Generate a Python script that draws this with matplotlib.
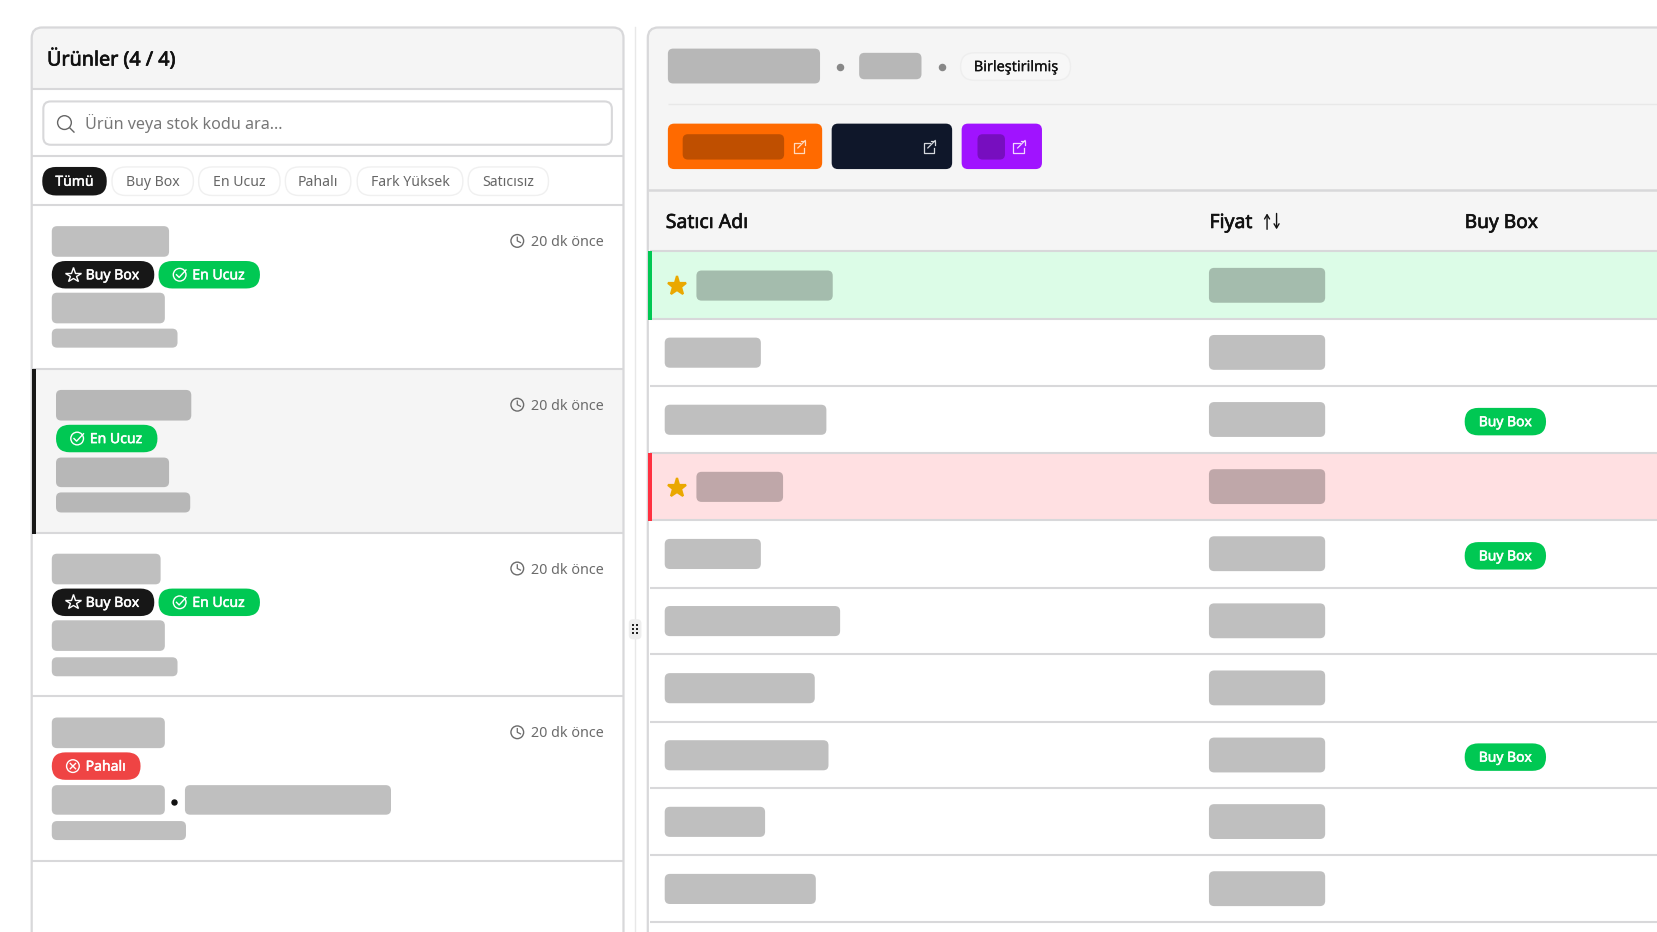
import numpy as np
import matplotlib
matplotlib.use('Agg')
import matplotlib.pyplot as plt
import matplotlib.patheffects as pe
from matplotlib.patches import FancyBboxPatch, Rectangle, Circle

plt.rcParams['font.family'] = ['Noto Sans', 'DejaVu Sans']

#==================================================================
# values, in a 1568 x 882 view
filter_labels = ['Tümü', 'Buy Box', 'En Ucuz', 'Pahalı', 'Fark Yüksek', 'Satıcısız']
filter_left = [40, 106, 188, 270, 338, 443]
filter_right = [101, 183, 265, 332, 438, 519]

item_rules = [349, 504, 659, 815]
item_times = [228, 383, 538, 693]
# x0, x1, y0, y1 of the masked blocks in the product list
list_blocks = [(49, 160, 214, 243), (49, 156, 277, 306), (49, 168, 311, 329),
               (53, 181, 369, 398), (53, 160, 433, 461), (53, 180, 466, 485),
               (49, 152, 524, 553), (49, 156, 587, 616), (49, 168, 622, 640),
               (49, 156, 679, 708), (49, 156, 743, 771), (175, 370, 743, 771),
               (49, 176, 777, 795)]
# label, kind, x0, x1, y0
list_badges = [('Buy Box', 'star', 49, 146, 247), ('En Ucuz', 'check', 150, 246, 247),
               ('En Ucuz', 'check', 53, 149, 402),
               ('Buy Box', 'star', 49, 146, 557), ('En Ucuz', 'check', 150, 246, 557),
               ('Pahalı', 'cross', 49, 133, 712)]

row_edges = [238, 302, 365, 429, 492, 556, 619, 683, 746, 809, 873]
name_left = [659, 629, 629, 659, 629, 629, 629, 629, 629, 629]
name_right = [788, 720, 782, 741, 720, 795, 771, 784, 724, 772]
has_buybox = [0, 0, 1, 0, 1, 0, 0, 1, 0, 0]
row_tint = {0: ('#dcfce7', '#00c853'), 3: ('#ffe0e2', '#ff3040')}
#==================================================================

BORDER = '#d8d8da'
GREEN = '#00c853'
BLACK = '#171717'
RED = '#ef4444'

fig = plt.figure(figsize=(16.57, 9.32), dpi=100)
ax = fig.add_axes([0, 0, 1, 1])
ax.set_xlim(0, 1568)
ax.set_ylim(882, 0)
ax.axis('off')


def box(x0, x1, y0, y1, r=4, fc='none', ec='none', lw=0, alpha=None, z=2):
    p = FancyBboxPatch((x0, y0), x1 - x0, y1 - y0, boxstyle='round,pad=0,rounding_size=%s' % r,
                       fc=fc, ec=ec, lw=lw, alpha=alpha, zorder=z)
    ax.add_patch(p)
    return p


def mask(x0, x1, y0, y1, r=5):
    box(x0, x1, y0, y1, r=r, fc='black', alpha=0.25, z=4)


def rule(x0, x1, y, color=BORDER, lw=1.5, z=3):
    ax.plot([x0, x1], [y, y], color=color, lw=lw, zorder=z, solid_capstyle='butt')


def label(x, y, s, size=10.5, color='#111111', ha='left', heavy=0):
    # the font only comes in regular here, a thin stroke stands in for semibold
    t = ax.text(x, y + 1.5, s, fontsize=size, color=color, ha=ha, va='center', zorder=6)
    if heavy:
        t.set_path_effects([pe.withStroke(linewidth=heavy, foreground=color)])


def ring(x, y, r, color, lw=1.0):
    ax.add_patch(Circle((x, y), r, fc='none', ec=color, lw=lw, zorder=6))


def clock(x, y):
    ring(x, y, 6, '#6b6b6b')
    ax.plot([x, x, x + 3], [y - 3.5, y, y + 1.5], color='#6b6b6b', lw=0.9, zorder=6)


def badge_icon(kind, x, y):
    if kind == 'star':
        ax.plot([x], [y], marker='*', ms=11.5, mfc='none', mec='white', mew=1.0, zorder=6)
    elif kind == 'check':
        ring(x, y, 6, 'white')
        ax.plot([x - 3, x - 0.5, x + 6], [y, y + 2.5, y - 4.5], color='white', lw=1.0, zorder=6)
    else:
        ring(x, y, 6, 'white')
        ax.plot([x - 2.5, x + 2.5], [y - 2.5, y + 2.5], color='white', lw=1.0, zorder=6)
        ax.plot([x - 2.5, x + 2.5], [y + 2.5, y - 2.5], color='white', lw=1.0, zorder=6)


def link_icon(x, y, color):
    ax.plot([x + 1, x - 5, x - 5, x + 5, x + 5], [y - 4, y - 4, y + 6, y + 6, y + 1], color=color, lw=0.9, zorder=6)
    ax.plot([x - 1, x + 6], [y + 1, y - 6], color=color, lw=0.9, zorder=6)
    ax.plot([x + 2, x + 6, x + 6], [y - 6, y - 6, y - 2], color=color, lw=0.9, zorder=6)


#LEFT PANEL========================================================
box(30, 590, 26, 960, r=10, fc='white', z=1)
box(30, 590, 26, 84, r=10, fc='#f5f5f5', z=1.5)
ax.add_patch(Rectangle((30, 50), 560, 34, fc='#f5f5f5', zorder=1.5))
box(30, 590, 26, 960, r=10, ec=BORDER, lw=1.6, z=3)
rule(30, 590, 84)
label(44.5, 55, 'Ürünler (4 / 4)', size=14.2, heavy=0.5)

box(41, 579, 96, 137, r=7, fc='white', ec=BORDER, lw=1.5)
ring(61, 116, 6.5, '#666666')
ax.plot([66, 70], [121, 125], color='#666666', lw=1.0, zorder=6)
label(80, 115.5, 'Ürün veya stok kodu ara...', size=11.6, color='#777777')
rule(30, 590, 148)

for i, text in enumerate(filter_labels):
    mid = (filter_left[i] + filter_right[i]) / 2
    if i == 0:
        box(filter_left[i], filter_right[i], 158, 185, r=13, fc=BLACK)
        label(mid, 171, text, size=10.1, color='white', ha='center', heavy=0.3)
    else:
        box(filter_left[i], filter_right[i], 158, 185, r=13, fc='white', ec='#f0f0f0', lw=1)
        label(mid, 171, text, size=10.1, color='#666666', ha='center')
rule(30, 590, 194)

ax.add_patch(Rectangle((30, 350), 560, 154, fc='#f5f5f5', zorder=1.5))
ax.add_patch(Rectangle((30, 349), 4, 156, fc=BLACK, zorder=3.5))
for y in item_rules:
    rule(30, 590, y)
for y in item_times:
    clock(489.5, y)
    label(571, y, '20 dk önce', size=10.3, color='#6b6b6b', ha='right')
for x0, x1, y0, y1 in list_blocks:
    mask(x0, x1, y0, y1)
for text, kind, x0, x1, y0 in list_badges:
    fc = {'star': BLACK, 'check': GREEN, 'cross': RED}[kind]
    box(x0, x1, y0, y0 + 26, r=13, fc=fc)
    badge_icon(kind, x0 + 20, y0 + 13)
    label(x0 + 32, y0 + 12.5, text, size=10.1, color='white', heavy=0.35)
ax.plot([165], [759], 'o', ms=3.6, color='#111111', zorder=6)

#SPLITTER==========================================================
ax.plot([601, 601], [26, 882], color='#e8e8e8', lw=1.0, zorder=1)
box(595, 607, 586, 605, r=4, fc='#eeeeee')
for dx in [-1.9, 1.9]:
    for dy in [-3.6, 0, 3.6]:
        ax.plot([601 + dx], [595.5 + dy], 's', ms=1.8, mew=0, color='#222222', zorder=6)

#RIGHT PANEL=======================================================
box(613, 1700, 26, 960, r=10, fc='white', z=1)
box(613, 1700, 26, 240, r=10, fc='#f5f5f5', z=1.5)
box(613, 1700, 26, 960, r=10, ec=BORDER, lw=1.6, z=3)
mask(632, 776, 46, 79)
ax.plot([795], [63.5], 'o', ms=4.4, color='#888888', zorder=6)
mask(813, 872, 50, 75)
ax.plot([891], [63.5], 'o', ms=4.4, color='#888888', zorder=6)
box(909, 1013, 50, 76, r=13, fc='#f7f7f7', ec='#eeeeee', lw=1)
label(961.5, 62.5, 'Birleştirilmiş', size=10.4, color='#111111', ha='center', heavy=0.15)
rule(632, 1568, 98, color='#e8e8e8', lw=1)

box(632, 778, 117, 160, r=6, fc='#ff6a00')
mask(646, 742, 127, 151)
link_icon(756, 139, '#ffd9bd')
box(787, 901, 117, 160, r=6, fc='#0f172a')
link_icon(879, 139, '#d5d8dd')
box(910, 986, 117, 160, r=6, fc='#a013ff')
mask(925, 951, 127, 151)
link_icon(964, 139, '#f0d5ff')
rule(613, 1568, 180, lw=1.8)

label(630, 209.5, 'Satıcı Adı', size=14, heavy=0.45)
label(1144.5, 209.5, 'Fiyat', size=14, heavy=0.45)
label(1386, 209.5, 'Buy Box', size=13.8, heavy=0.45)
ax.annotate('', xy=(1199, 202), xytext=(1199, 217), zorder=6,
            arrowprops=dict(arrowstyle='->,head_width=0.18,head_length=0.3', color='#111111', lw=1.0, shrinkA=0, shrinkB=0))
ax.annotate('', xy=(1208, 217), xytext=(1208, 202), zorder=6,
            arrowprops=dict(arrowstyle='->,head_width=0.18,head_length=0.3', color='#111111', lw=1.0, shrinkA=0, shrinkB=0))

for i in range(len(name_left)):
    top, bottom = row_edges[i], row_edges[i + 1]
    mid = (top + bottom) / 2
    if i in row_tint:
        tint, bar = row_tint[i]
        ax.add_patch(Rectangle((613, top), 960, bottom - top, fc=tint, zorder=1.6))
        ax.add_patch(Rectangle((613, top), 4, bottom - top + 1, fc=bar, zorder=3.5))
        ax.plot([641], [mid + 1], marker='*', ms=14, mew=1.6, mec='#eaa800', mfc='#eaa800',
                zorder=6, solid_joinstyle='round')
    mask(name_left[i], name_right[i], mid - 14, mid + 14.5)
    mask(1144, 1254, mid - 16.5, mid + 16.5)
    if has_buybox[i]:
        box(1386, 1463, mid + 2 - 13, mid + 2 + 13, r=13, fc=GREEN)
        label(1424.5, mid + 1.5, 'Buy Box', size=10, color='white', ha='center', heavy=0.35)
    rule(615, 1568, bottom)
rule(615, 1568, row_edges[0])

fig.savefig('out.png', dpi=100)
